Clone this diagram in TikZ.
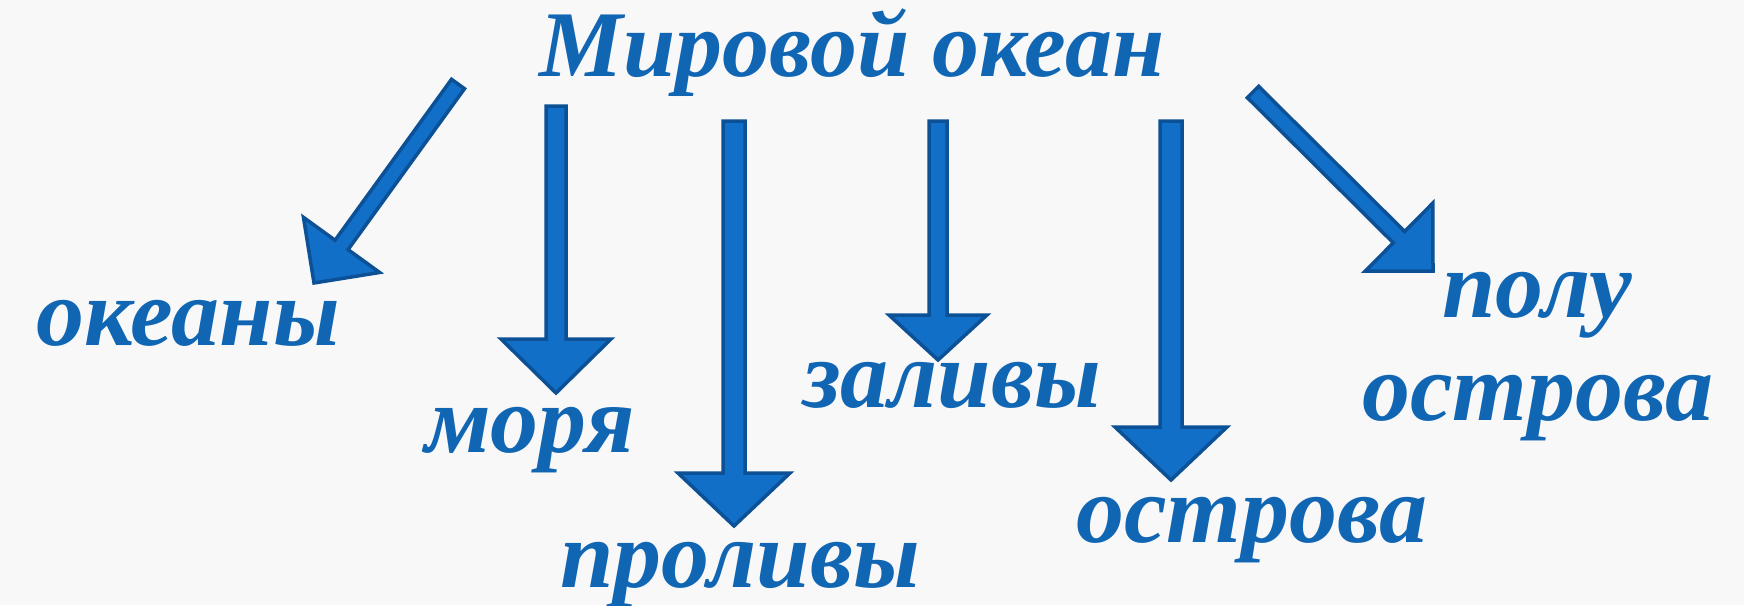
\documentclass[tikz,border=0pt]{standalone}
\usepackage{fontspec}
\usetikzlibrary{calc}
\newfontface\labfont{Liberation Serif Bold Italic}
\definecolor{txtblue}{RGB}{17,102,180}
\definecolor{arrfill}{RGB}{18,111,200}
\definecolor{arrline}{RGB}{12,80,150}
\definecolor{bgcol}{RGB}{248,248,248}
\tikzset{
  barrow/.style={draw=arrline, fill=arrfill, line width=3.5pt, line join=miter},
  lab/.style={text=txtblue, inner sep=0pt, anchor=base, font=\labfont\fontsize{96}{110}\selectfont},
  ttl/.style={text=txtblue, inner sep=0pt, anchor=base, font=\labfont\fontsize{94}{110}\selectfont}
}
\newcommand{\blockarrow}[5]{%
  \coordinate (#1-b) at ($(#2)!#5!(#1)$);
  \draw[barrow] ($(#1)!#3/2!90:(#2)$) -- ($(#1-b)!#3/2!90:(#2)$) -- ($(#1-b)!#4/2!90:(#2)$) -- (#2)
     -- ($(#1-b)!#4/2!-90:(#2)$) -- ($(#1-b)!#3/2!-90:(#2)$) -- ($(#1)!#3/2!-90:(#2)$) -- cycle;}
\begin{document}
\begin{tikzpicture}[x=1pt, y=-1pt]
\fill[bgcol] (0,0) rectangle (1744,605);
\useasboundingbox (0,0) rectangle (1744,605);

% texts
\node[ttl] (title) at (852,76) {Мировой океан};
\node[lab] (okeany) at (188,345) {океаны};
\node[lab] (morya) at (530,452) {моря};
\node[lab] (prolivy) at (740,587) {проливы};
\node[lab] (zalivy) at (952,407) {заливы};
\node[lab] (ostrova) at (1252,542) {острова};
\node[lab] (polu) at (1537,317) {полу};
\node[lab] (ostrova2) at (1538,420) {острова};

% arrow end points
\coordinate (aS) at (458,84);   \coordinate (aE) at (314,283);
\coordinate (bS) at (556,106);  \coordinate (bE) at (556,393);
\coordinate (cS) at (734,121);  \coordinate (cE) at (734,526);
\coordinate (dS) at (938,121);  \coordinate (dE) at (938,360);
\coordinate (eS) at (1171,121); \coordinate (eE) at (1171,480);
\coordinate (fS) at (1253,92);  \coordinate (fE) at (1433,271);

\blockarrow{aS}{aE}{16pt}{94pt}{47pt}
\blockarrow{bS}{bE}{20pt}{110pt}{54pt}
\blockarrow{cS}{cE}{22pt}{112pt}{53pt}
\blockarrow{dS}{dE}{18pt}{98pt}{45pt}
\blockarrow{eS}{eE}{22pt}{112pt}{53pt}
\blockarrow{fS}{fE}{16pt}{96pt}{48pt}
\end{tikzpicture}
\end{document}
